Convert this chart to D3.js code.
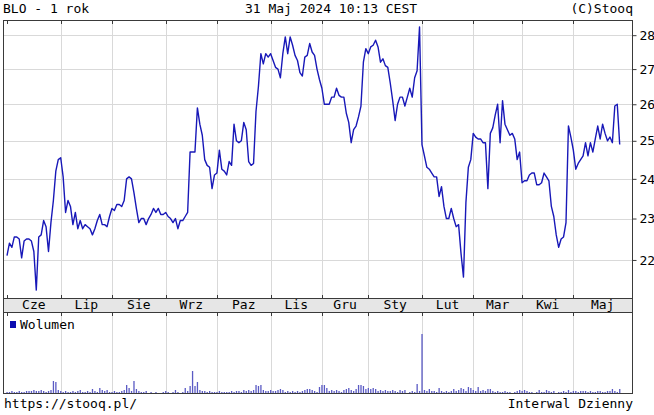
<!DOCTYPE html>
<html><head><meta charset="utf-8">
<script src="https://cdn.jsdelivr.net/npm/d3@7"></script>
<style>
body{margin:0;background:#fff}
svg{display:block}
text{font-family:"DejaVu Sans Mono",monospace;font-size:13px;fill:#000}
</style>
</head><body><svg id="c" width="654" height="415"></svg>
<script>
const title = "BLO - 1 rok";
const stamp = "31 Maj 2024 10:13 CEST";
const credit = "(C)Stooq";
const footLeft = "https://stooq.pl/";
const footRight = "Interwal Dzienny";
const volumeLabel = "Wolumen";

const monthLabels = ["Cze","Lip","Sie","Wrz","Paz","Lis","Gru","Sty","Lut","Mar","Kwi","Maj"];
const monthStarts = [0,22,43,65,86,108,129,148,170,191,211,232];
const priceTicks = [22,23,24,25,26,27,28];

const closes = [
22.1,22.4,22.3,22.55,22.55,22.5,22.05,22.45,22.5,22.5,
22.45,22.2,21.3,22.55,22.6,22.95,22.8,22.2,22.9,23.45,
24.2,24.5,24.55,24.05,23.15,23.45,23.3,22.85,23.15,22.75,
22.95,22.75,22.85,22.8,22.75,22.6,22.75,22.95,23.1,22.85,
22.85,22.8,23.05,23.25,23.2,23.35,23.35,23.3,23.45,24.0,
24.05,24.0,23.65,23.25,22.9,23.0,23.0,22.85,23.0,23.1,
23.25,23.15,23.25,23.1,23.1,23.15,23.05,23.0,22.9,23.0,
22.75,22.95,22.95,23.05,23.15,24.7,24.7,24.7,25.9,25.45,
25.15,24.5,24.35,24.3,23.75,24.1,24.15,24.75,24.25,24.2,
24.1,24.45,24.35,25.45,25.0,24.95,25.0,25.5,25.3,24.45,
24.35,24.4,25.8,26.5,27.45,27.15,27.45,27.35,27.45,27.25,
27.05,27.0,26.75,27.45,27.95,27.45,27.95,27.7,27.4,27.25,
26.9,26.8,27.35,27.4,27.75,27.5,27.4,27.0,26.7,26.45,
26.0,26.0,26.0,26.2,26.2,26.45,26.25,26.2,26.2,25.75,
25.5,24.95,25.3,25.4,25.65,25.95,27.2,27.6,27.45,27.65,
27.7,27.85,27.65,27.2,27.3,27.1,27.05,26.6,26.1,25.55,
26.0,26.2,26.2,25.95,26.2,26.45,26.2,26.75,26.95,28.25,
24.9,24.6,24.3,24.25,24.15,24.05,24.05,23.55,23.8,23.3,
23.0,23.0,23.25,23.0,22.8,22.85,22.15,21.6,23.4,24.3,
24.5,25.2,25.1,25.05,25.05,24.95,24.95,23.75,25.2,25.35,
25.7,26.0,24.95,26.1,25.45,25.3,25.15,25.2,25.05,24.5,
24.7,23.9,23.95,23.95,24.1,24.15,24.15,23.85,23.85,23.9,
24.15,24.05,23.95,23.3,23.05,22.6,22.3,22.5,22.55,22.9,
25.4,25.1,24.75,24.25,24.4,24.5,24.6,24.95,24.6,24.95,
24.7,25.05,25.4,25.05,25.45,25.2,25.0,25.1,24.95,25.95,
26.0,24.9
];

const volumes = [
1,1,2,1,1,2,1,1,2,2,
2,3,2,2,3,2,1,2,3,12,
11,3,2,1,2,1,1,2,1,2,
3,1,1,2,1,4,2,1,5,3,
2,3,1,1,2,1,1,2,3,8,
5,2,12,4,2,1,1,2,0,1,
0,1,0,0,1,2,1,0,1,3,
1,0,1,5,2,7,22,7,11,3,
2,2,1,2,1,1,1,2,1,1,
1,1,2,1,2,2,1,3,2,3,
2,3,8,7,8,3,2,2,3,2,
2,3,4,3,1,2,1,2,1,2,
1,2,3,4,4,3,2,1,6,8,
8,5,2,3,2,3,2,1,3,4,
5,3,2,4,8,8,7,4,5,4,
5,4,2,3,2,3,2,2,3,2,
1,3,2,3,0,1,2,1,9,2,
59,3,2,4,2,2,1,5,2,1,
2,1,2,4,2,3,5,4,2,6,
5,3,2,6,2,3,2,4,4,2,
1,2,1,1,2,1,1,0,1,2,
3,2,3,2,1,1,0,1,3,1,
1,3,2,1,2,0,1,1,2,1,
3,1,2,2,1,2,2,2,1,2,
1,1,2,2,1,1,2,2,4,2,
1,4
];

const svg = d3.select("#c");
const L = 3, R = 632, pTop = 20, pBot = 298, bBot = 312, vTop = 312, vBot = 393;
const frameColor = "#3a3a3a", gridColor = "#d9d9d9";

const x = d3.scaleLinear().domain([0, closes.length - 1]).range([7, 619.7]);
const y = d3.scaleLog().domain([21.12, 28.46]).range([pBot, pTop]);
const yv = d3.scaleLinear().domain([0, 80]).range([vBot, vBot - 80]);

// gridlines price
const g = svg.append("g").attr("shape-rendering", "crispEdges");
g.selectAll(".hg").data(priceTicks).join("line")
  .attr("x1", L).attr("x2", R)
  .attr("y1", d => Math.round(y(d)) + 0.5).attr("y2", d => Math.round(y(d)) + 0.5)
  .attr("stroke", gridColor);
const vgrid = monthStarts.filter(d => d > 0);
g.selectAll(".vg").data(vgrid).join("line")
  .attr("x1", d => Math.round(x(d)) + 0.5).attr("x2", d => Math.round(x(d)) + 0.5)
  .attr("y1", pTop).attr("y2", pBot).attr("stroke", gridColor);
g.selectAll(".vg2").data(vgrid).join("line")
  .attr("x1", d => Math.round(x(d)) + 0.5).attr("x2", d => Math.round(x(d)) + 0.5)
  .attr("y1", vTop).attr("y2", vBot).attr("stroke", gridColor);

// band
svg.append("rect").attr("x", L + 0.5).attr("y", pBot + 0.5).attr("width", R - L).attr("height", bBot - pBot)
  .attr("fill", "#e6e6e6").attr("stroke", frameColor).attr("shape-rendering", "crispEdges");

// volume bars
svg.append("g").selectAll("rect").data(volumes).join("rect")
  .attr("x", (d, i) => x(i) - 0.6).attr("width", 1.3)
  .attr("y", d => yv(d)).attr("height", d => vBot - yv(d))
  .attr("fill", "#5a5ac4");

// price line
svg.append("path").datum(closes)
  .attr("d", d3.line().x((d, i) => x(i)).y(d => y(d)))
  .attr("fill", "none").attr("stroke", "#1818b8").attr("stroke-width", 1.4)
  .attr("stroke-linejoin", "round");

// frames
svg.append("rect").attr("x", L + 0.5).attr("y", pTop + 0.5).attr("width", R - L).attr("height", pBot - pTop)
  .attr("fill", "none").attr("stroke", frameColor).attr("shape-rendering", "crispEdges");
svg.append("rect").attr("x", L + 0.5).attr("y", vTop + 0.5).attr("width", R - L).attr("height", vBot - vTop)
  .attr("fill", "none").attr("stroke", frameColor).attr("shape-rendering", "crispEdges");

// month ticks
const t = svg.append("g").attr("stroke", frameColor).attr("shape-rendering", "crispEdges");
monthStarts.forEach(d => {
  const xx = Math.round(x(d)) + 0.5;
  t.append("line").attr("x1", xx).attr("x2", xx).attr("y1", pTop).attr("y2", pTop + 4);
  t.append("line").attr("x1", xx).attr("x2", xx).attr("y1", pBot - 3).attr("y2", pBot);
  t.append("line").attr("x1", xx).attr("x2", xx).attr("y1", bBot).attr("y2", bBot + 4);
});

// month labels
svg.append("g").selectAll("text").data(monthLabels).join("text")
  .attr("x", (d, i) => {
    const a = x(monthStarts[i]);
    const b = i + 1 < monthStarts.length ? x(monthStarts[i + 1]) : R;
    return (a + b) / 2;
  })
  .attr("y", 309).attr("text-anchor", "middle").text(d => d);

// right axis
const ax = svg.append("g").attr("transform", `translate(${R + 0.5},0)`)
  .call(d3.axisRight(y).tickValues(priceTicks).tickFormat(d3.format("d")).tickSize(4).tickPadding(3));
ax.select(".domain").remove();
ax.selectAll("line").attr("stroke", frameColor);
ax.selectAll("text").attr("font-family", "DejaVu Sans Mono").attr("font-size", 13).attr("fill", "#000");

// header/footer
svg.append("text").attr("x", 3).attr("y", 12.5).text(title);
svg.append("text").attr("x", 331).attr("y", 12.5).attr("text-anchor", "middle").text(stamp);
svg.append("text").attr("x", 633).attr("y", 12.5).attr("text-anchor", "end").text(credit);
svg.append("text").attr("x", 4).attr("y", 408).text(footLeft);
svg.append("text").attr("x", 633).attr("y", 408).attr("text-anchor", "end").text(footRight);

// legend
svg.append("rect").attr("x", 10).attr("y", 321).attr("width", 6).attr("height", 7).attr("fill", "#0c0cb0");
svg.append("text").attr("x", 20).attr("y", 329).text(volumeLabel);
</script>
</body></html>
